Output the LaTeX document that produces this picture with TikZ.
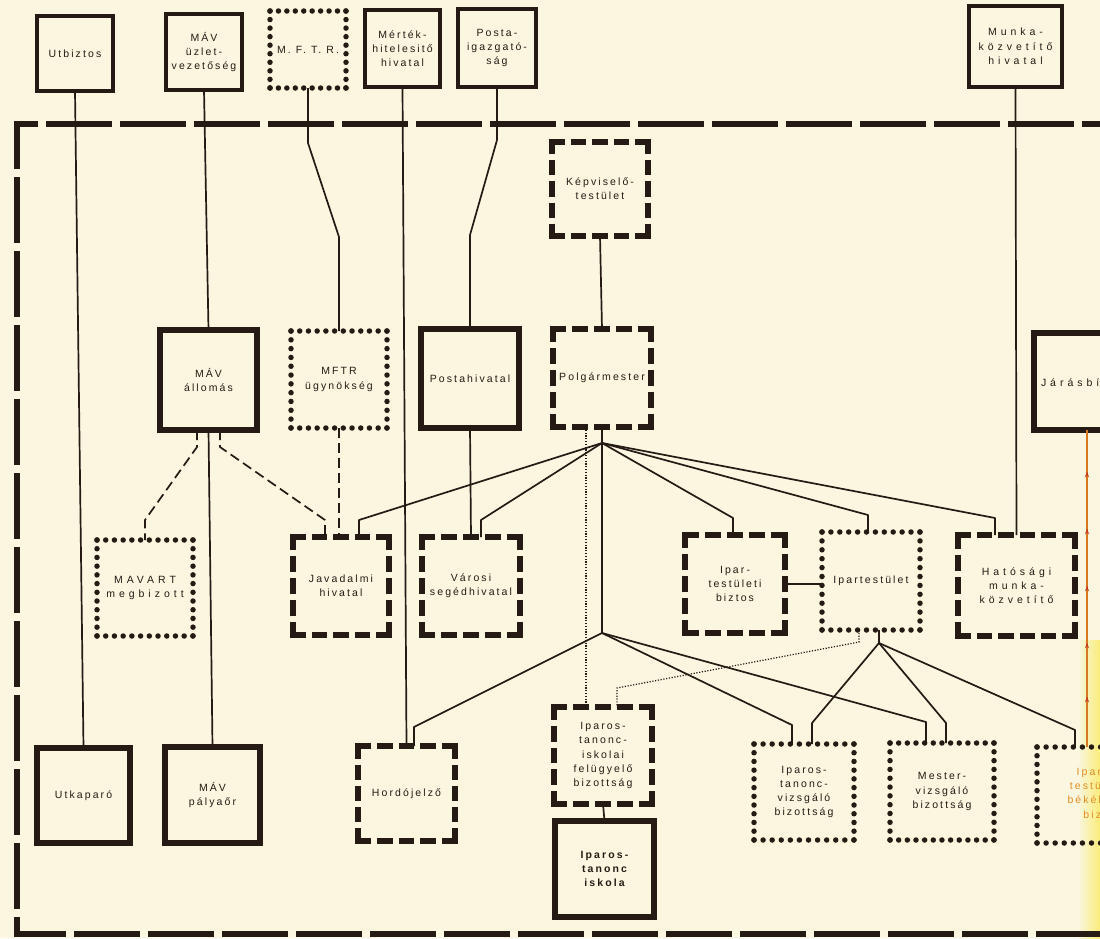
\documentclass[tikz,border=0pt]{standalone}
\usepackage{fontspec}
\setmainfont{Liberation Sans}[LetterSpace=20]
\usetikzlibrary{decorations.markings,arrows.meta}
\definecolor{paper}{RGB}{250,246,224}
\definecolor{ink}{RGB}{38,27,20}
\definecolor{orangeln}{RGB}{214,120,32}
\definecolor{arrred}{RGB}{200,60,30}
\definecolor{orangetxt}{RGB}{226,140,36}
\definecolor{yellowwash}{RGB}{250,236,120}
\tikzset{
  lbl/.style={align=center, inner sep=0pt, outer sep=0pt, text=ink, font=\fontsize{10.5}{14.3}\selectfont},
  widelbl/.style={font=\fontsize{10.5}{14.3}\selectfont\addfontfeatures{LetterSpace=38}},
  boldlbl/.style={font=\fontsize{10.5}{14.3}\selectfont\bfseries},
  solidbox/.style={draw=ink, line width=5.5pt},
  thinbox/.style={draw=ink, line width=3.5pt},
  dashln/.style={draw=ink, line width=5.5pt, line cap=butt},
  dotln/.style={draw=ink, line width=5.5pt, line cap=round},
  conn/.style={draw=ink, line width=1.7pt, line join=round},
  dconn/.style={conn, dash pattern=on 10pt off 5pt},
  tconn/.style={draw=ink, line width=1.2pt, dash pattern=on 1.2pt off 1.6pt},
  frameln/.style={draw=ink, line width=6pt, dash pattern=on 66pt off 8pt, dash phase=18pt},
  orline/.style={draw=orangeln, line width=1.6pt,
    decoration={markings,
      mark=at position 0.16 with {\arrow[arrred]{Stealth[length=6pt,width=4pt]}},
      mark=at position 0.33 with {\arrow[arrred]{Stealth[length=6pt,width=4pt]}},
      mark=at position 0.51 with {\arrow[arrred]{Stealth[length=6pt,width=4pt]}},
      mark=at position 0.69 with {\arrow[arrred]{Stealth[length=6pt,width=4pt]}},
      mark=at position 0.87 with {\arrow[arrred]{Stealth[length=6pt,width=4pt]}}},
    postaction={decorate}},
}
% generic box node: [options]{name}{x1}{y1}{x2}{y2}{text}
\newcommand\placebox[7][]{%
  \pgfmathsetmacro\bxW{#5-#3}%
  \pgfmathsetmacro\bxH{#6-#4}%
  \pgfmathsetmacro\bxX{(#3+#5)/2}%
  \pgfmathsetmacro\bxY{(#4+#6)/2}%
  \node[lbl, minimum width=\bxW pt, minimum height=\bxH pt, #1] (#2) at (\bxX,\bxY) {#7};%
}
\newcommand\dashside[4]{%
  \pgfmathsetmacro\dsL{veclen(#3-#1,#4-#2)}%
  \pgfmathsetmacro\dsN{max(1,round((\dsL+6)/21))}%
  \pgfmathsetmacro\dsOn{(\dsL-(\dsN-1)*6)/\dsN}%
  \draw[dashln, dash pattern=on \dsOn pt off 6pt] (#1,#2) -- (#3,#4);%
}
\newcommand\dashborder[4]{%
  \pgfmathsetmacro\dbA{#1-2.75}\pgfmathsetmacro\dbB{#3+2.75}%
  \pgfmathsetmacro\dbC{#2-2.75}\pgfmathsetmacro\dbD{#4+2.75}%
  \dashside{\dbA}{#2}{\dbB}{#2}%
  \dashside{\dbA}{#4}{\dbB}{#4}%
  \dashside{#1}{\dbC}{#1}{\dbD}%
  \dashside{#3}{\dbC}{#3}{\dbD}%
}
\newcommand\dotside[4]{%
  \pgfmathsetmacro\dtL{veclen(#3-#1,#4-#2)}%
  \pgfmathsetmacro\dtN{max(1,round(\dtL/8.7))}%
  \pgfmathsetmacro\dtS{\dtL/\dtN-0.01}%
  \draw[dotln, dash pattern=on 0pt off \dtS pt] (#1,#2) -- (#3,#4);%
}
\newcommand\dotborder[4]{%
  \dotside{#1}{#2}{#3}{#2}%
  \dotside{#1}{#4}{#3}{#4}%
  \dotside{#1}{#2}{#1}{#4}%
  \dotside{#3}{#2}{#3}{#4}%
}
\begin{document}
\begin{tikzpicture}[x=1pt,y=-1pt]
\clip (0,0) rectangle (1100,938);
\fill[paper] (0,0) rectangle (1100,938);
\shade[left color=paper, right color=yellowwash] (1078,640) rectangle (1100,938);
% outer frame
\draw[frameln] (1130,124) -- (17,124) -- (17,934) -- (1130,934);

% ---- top row
\placebox[thinbox]{utb}{37}{16}{113}{91}{Utbiztos}
\placebox[thinbox]{mavuz}{166}{14}{242}{90}{MÁV\\üzlet-\\vezetőség}
\placebox{mftrt}{270}{11}{346}{88}{M. F. T. R.}
\dotborder{270}{11}{346}{88}
\placebox[thinbox]{mert}{365}{10}{440}{87}{Mérték-\\hitelesitő\\hivatal}
\placebox[thinbox]{posta}{458}{9}{536}{87}{Posta-\\igazgató-\\ság}
\placebox[thinbox,widelbl]{munka}{969}{6}{1062}{87}{Munka-\\közvetítő\\hivatal}

% ---- second row
\placebox{kepv}{552}{142}{648}{236}{Képviselő-\\testület}
\dashborder{552}{142}{648}{236}
\placebox[solidbox]{mava}{160}{330}{257}{430}{MÁV\\állomás}
\placebox{mftr}{291}{331}{387}{428}{MFTR\\ügynökség}
\dotborder{291}{331}{387}{428}
\placebox[solidbox]{postah}{421}{329}{519}{428}{Postahivatal}
\placebox{polg}{553}{329}{651}{427}{Polgármester}
\dashborder{553}{329}{651}{427}
\placebox[solidbox]{jaras}{1034}{333}{1140}{430}{}
\node[lbl, widelbl, anchor=west] (jarastxt) at (1041,383) {Járásbí};

% ---- third row
\placebox[widelbl]{mavart}{97}{540}{193}{636}{MAVART\\megbizott}
\dotborder{97}{540}{193}{636}
\placebox{jav}{293}{537}{389}{635}{Javadalmi\\hivatal}
\dashborder{293}{537}{389}{635}
\placebox{varosi}{422}{537}{520}{635}{Városi\\segédhivatal}
\dashborder{422}{537}{520}{635}
\placebox{ipb}{685}{535}{785}{633}{Ipar-\\testületi\\biztos}
\dashborder{685}{535}{785}{633}
\placebox{ipt}{822}{532}{920}{630}{Ipartestület}
\dotborder{822}{532}{920}{630}
\placebox[widelbl]{hat}{958}{535}{1075}{636}{Hatósági\\munka-\\közvetítő}
\dashborder{958}{535}{1075}{636}

% ---- bottom row
\placebox[solidbox]{utk}{37}{748}{130}{843}{Utkaparó}
\placebox[solidbox]{palv}{165}{747}{260}{843}{MÁV\\pályaőr}
\placebox{hord}{358}{746}{455}{841}{Hordójelző}
\dashborder{358}{746}{455}{841}
\placebox{isk}{554}{707}{652}{804}{Iparos-\\tanonc-\\iskolai\\felügyelő\\bizottság}
\dashborder{554}{707}{652}{804}
\placebox[solidbox,boldlbl]{iskola}{555}{821}{654}{917}{Iparos-\\tanonc\\iskola}
\placebox{vizs}{754}{744}{854}{840}{Iparos-\\tanonc-\\vizsgáló\\bizottság}
\dotborder{754}{744}{854}{840}
\placebox{mester}{890}{743}{994}{840}{Mester-\\vizsgáló\\bizottság}
\dotborder{890}{743}{994}{840}
\placebox{bek}{1037}{747}{1137}{843}{}
\dotborder{1037}{747}{1137}{843}
\node[lbl, align=right, anchor=east, text=orangetxt] (bektxt) at (1101,793) {Ipar\\testü\\békél\\biz};

% ---- coordinates for bends
\coordinate (m1) at (308,143);
\coordinate (m2) at (339,237);
\coordinate (p1) at (497,140);
\coordinate (p2) at (470,235);
\coordinate (hub1) at (602,443);
\coordinate (hub2) at (602,633);
\coordinate (hub3) at (879,643);
\coordinate (g1) at (359,520);
\coordinate (g2) at (481,520);
\coordinate (g3) at (733,518);
\coordinate (g4) at (868,515);
\coordinate (g5) at (995,518);
\coordinate (d1) at (197,447);
\coordinate (d2) at (145,520);
\coordinate (d3) at (220,447);
\coordinate (d4) at (325,520);
\coordinate (tx) at (586,500);
\coordinate (u1) at (859,642);
\coordinate (u2) at (617,688);
\coordinate (h1) at (414,727);
\coordinate (h2) at (792,725);
\coordinate (h3) at (926,722);
\coordinate (h4) at (812,723);
\coordinate (h5) at (946,723);
\coordinate (h6) at (1075,730);

% ---- straight connectors
\draw[conn] (utb.south) -- (utk.north);
\draw[conn] (mavuz.south) -- (mava.north);
\draw[conn] (mava.south) -- (palv.north);
\draw[conn] (mert.south) -- (hord.north);
\draw[conn] (postah.south) -- (varosi.north);
\draw[conn] (kepv.south) -- (polg.north);
\draw[conn] (munka.south) -- (hat.north);
\draw[conn] (isk.south) -- (iskola.north);
\draw[conn] (ipb.east) -- (ipb.east -| ipt.west);
% bent connectors from the top
\draw[conn] (mftrt.south) -- (m1) -- (m2) -- (m2 |- mftr.north);
\draw[conn] (posta.south) -- (p1) -- (p2) -- (p2 |- postah.north);
% Polgarmester fan
\draw[conn] (polg.south) -- (hub1) -- (hub2);
\draw[conn] (hub1) -- (g1) -- (g1 |- jav.north);
\draw[conn] (hub1) -- (g2) -- (g2 |- varosi.north);
\draw[conn] (hub1) -- (g3) -- (g3 |- ipb.north);
\draw[conn] (hub1) -- (g4) -- (g4 |- ipt.north);
\draw[conn] (hub1) -- (g5) -- (g5 |- hat.north);
\draw[conn] (hub2) -- (h1) -- (h1 |- hord.north);
\draw[conn] (hub2) -- (h2) -- (h2 |- vizs.north);
\draw[conn] (hub2) -- (h3) -- (h3 |- mester.north);
% Ipartestulet fan
\draw[conn] (hub3 |- ipt.south) -- (hub3);
\draw[conn] (hub3) -- (h4) -- (h4 |- vizs.north);
\draw[conn] (hub3) -- (h5) -- (h5 |- mester.north);
\draw[conn] (hub3) -- (h6) -- (h6 |- bek.north);
% dashed connectors
\draw[dconn] (d1 |- mava.south) -- (d1) -- (d2) -- (d2 |- mavart.north);
\draw[dconn] (d3 |- mava.south) -- (d3) -- (d4) -- (d4 |- jav.north);
\draw[dconn] (mftr.south) -- (mftr.south |- jav.north);
% dotted connectors
\draw[tconn] (tx |- polg.south) -- (tx |- isk.north);
\draw[tconn] (u1 |- ipt.south) -- (u1) -- (u2) -- (u2 |- isk.north);
% orange arrowed line
\draw[orline] (bek.north) -- (jaras.south);
\end{tikzpicture}
\end{document}
